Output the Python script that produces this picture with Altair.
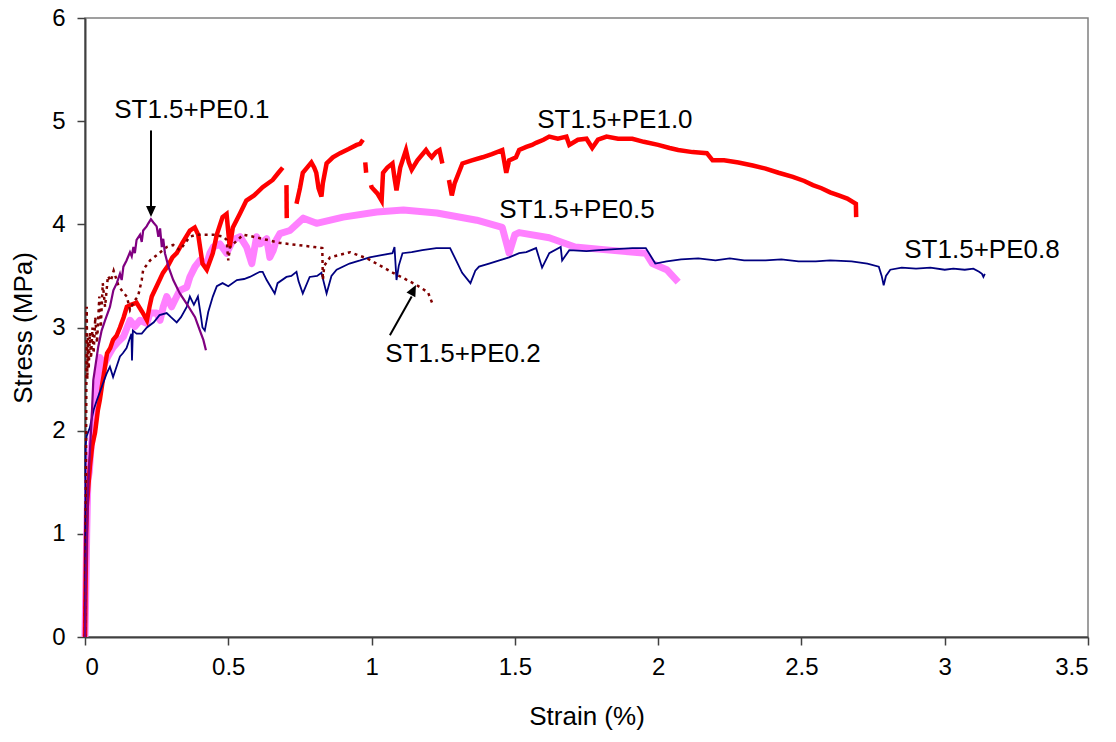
import altair as alt
import pandas as pd

FONT = "Liberation Sans"

# ---------------- data ----------------
# ST1.5+PE0.1 (purple)
pe01_x = [0, 0.003, 0.007, 0.012, 0.018, 0.023, 0.026, 0.029, 0.046, 0.058, 0.070, 0.087, 0.099,
          0.111, 0.122, 0.128, 0.134, 0.145, 0.157, 0.163, 0.169, 0.174, 0.180, 0.192, 0.198,
          0.203, 0.215, 0.221, 0.230, 0.238, 0.250, 0.256, 0.262, 0.268, 0.273, 0.279, 0.291,
          0.308, 0.331, 0.355, 0.384, 0.401, 0.413, 0.422]
pe01_y = [0, 0.5, 1.0, 1.5, 1.85, 2.1, 2.3, 2.49, 2.81, 2.97, 3.07, 3.2, 3.36,
          3.43, 3.52, 3.46, 3.59, 3.65, 3.73, 3.69, 3.78, 3.72, 3.85, 3.9, 3.83,
          3.94, 3.98, 4.01, 4.05, 4.02, 3.98, 3.88, 3.96, 3.78, 3.86, 3.72, 3.59,
          3.46, 3.33, 3.23, 3.1, 2.97, 2.88, 2.78]

# ST1.5+PE0.2 (dark red, dotted)
pe02_x = [0, 0.002, 0.004, 0.005, 0.006, 0.008, 0.010, 0.013, 0.017, 0.021, 0.026, 0.030, 0.036,
          0.042, 0.050, 0.055, 0.062, 0.070, 0.080, 0.090, 0.100, 0.115, 0.130, 0.146, 0.157,
          0.170, 0.185, 0.198, 0.203, 0.227, 0.250, 0.285, 0.308, 0.331, 0.366, 0.390, 0.448,
          0.483, 0.494, 0.500, 0.506, 0.552, 0.587, 0.634, 0.680, 0.740, 0.800, 0.828, 0.830,
          0.835, 0.855, 0.925, 0.984, 1.030, 1.075, 1.110, 1.158, 1.197, 1.214]
pe02_y = [0, 1.0, 2.0, 2.6, 3.2, 2.5, 2.9, 2.6, 2.95, 2.7, 3.0, 2.75, 3.1,
          2.85, 3.3, 3.0, 3.43, 3.2, 3.5, 3.45, 3.55, 3.42, 3.35, 3.3, 3.17,
          3.25, 3.3, 3.46, 3.56, 3.65, 3.7, 3.78, 3.8, 3.75, 3.88, 3.9, 3.9,
          3.88, 3.85, 3.65, 3.78, 3.9, 3.88, 3.85, 3.82, 3.8, 3.78, 3.77, 3.46,
          3.6, 3.68, 3.73, 3.67, 3.6, 3.53, 3.48, 3.41, 3.34, 3.22]

# ST1.5+PE0.5 (pink, thick)
pe05_x = [0, 0.003, 0.006, 0.010, 0.015, 0.020, 0.028, 0.035, 0.045, 0.052, 0.064, 0.080, 0.099,
          0.115, 0.134, 0.157, 0.174, 0.192, 0.215, 0.227, 0.250, 0.262, 0.273, 0.285, 0.302,
          0.320, 0.331, 0.355, 0.366, 0.384, 0.401, 0.425, 0.436, 0.448, 0.471, 0.494, 0.517,
          0.541, 0.564, 0.582, 0.599, 0.611, 0.634, 0.645, 0.657, 0.668, 0.680, 0.715, 0.762,
          0.808, 0.901, 1.018, 1.111, 1.228, 1.367, 1.456, 1.480, 1.500, 1.515, 1.620, 1.710,
          1.830, 1.957, 1.980, 2.030, 2.070]
pe05_y = [0, 0.5, 1.0, 1.52, 1.6, 1.8, 2.03, 2.25, 2.5, 2.71, 2.62, 2.72, 2.81,
          2.86, 2.91, 3.07, 3.01, 3.07, 3.04, 3.14, 3.14, 3.07, 3.2, 3.3, 3.2,
          3.3, 3.36, 3.39, 3.49, 3.59, 3.65, 3.62, 3.72, 3.78, 3.81, 3.72, 3.85,
          3.88, 3.78, 3.62, 3.88, 3.81, 3.86, 3.68, 3.75, 3.85, 3.91, 3.94, 4.06,
          4.01, 4.07, 4.12, 4.14, 4.11, 4.04, 3.97, 3.72, 3.9, 3.92, 3.87, 3.78,
          3.75, 3.72, 3.62, 3.56, 3.44]

# ST1.5+PE0.8 (navy)
pe08_x = [0, 0.001, 0.002, 0.006, 0.017, 0.030, 0.042, 0.063, 0.075, 0.087, 0.098, 0.110, 0.122,
          0.132, 0.145, 0.157, 0.162, 0.164, 0.167, 0.180, 0.198, 0.216, 0.240, 0.260, 0.285,
          0.300, 0.320, 0.335, 0.355, 0.366, 0.380, 0.394, 0.405, 0.410, 0.418, 0.430, 0.446,
          0.460, 0.480, 0.500, 0.530, 0.555, 0.575, 0.610, 0.620, 0.634, 0.662, 0.672, 0.703,
          0.720, 0.738, 0.745, 0.760, 0.784, 0.810, 0.825, 0.843, 0.860, 0.878, 0.923, 0.960,
          0.993, 1.030, 1.073, 1.080, 1.087, 1.095, 1.108, 1.140, 1.177, 1.226, 1.274, 1.295,
          1.316, 1.345, 1.362, 1.375, 1.410, 1.446, 1.480, 1.515, 1.540, 1.574, 1.595, 1.620,
          1.660, 1.665, 1.690, 1.750, 1.794, 1.850, 1.910, 1.957, 1.990, 2.030, 2.080, 2.140,
          2.200, 2.250, 2.300, 2.375, 2.430, 2.490, 2.550, 2.600, 2.675, 2.730, 2.770, 2.780,
          2.787, 2.795, 2.810, 2.850, 2.900, 2.950, 3.000, 3.030, 3.070, 3.100, 3.120, 3.130,
          3.135, 3.140]
pe08_y = [0, 1.0, 1.85, 1.95, 2.03, 2.2, 2.3, 2.46, 2.55, 2.62, 2.52, 2.62, 2.72,
          2.75, 2.8, 2.9, 2.94, 2.68, 2.97, 2.94, 2.94, 3.0, 3.05, 3.12, 3.14,
          3.1, 3.05, 3.1, 3.2, 3.3, 3.22, 3.3, 3.1, 3.0, 2.97, 3.15, 3.3,
          3.4, 3.43, 3.4, 3.46, 3.47, 3.49, 3.54, 3.54, 3.46, 3.33, 3.43, 3.49,
          3.5, 3.54, 3.45, 3.33, 3.49, 3.5, 3.53, 3.33, 3.5, 3.56, 3.62, 3.65,
          3.68, 3.7, 3.72, 3.78, 3.46, 3.6, 3.72, 3.73, 3.75, 3.77, 3.77, 3.65,
          3.53, 3.43, 3.55, 3.59, 3.62, 3.65, 3.68, 3.72, 3.73, 3.77, 3.58, 3.72,
          3.78, 3.65, 3.75, 3.74, 3.75, 3.76, 3.77, 3.77, 3.62, 3.64, 3.66, 3.67,
          3.65, 3.67, 3.65, 3.65, 3.66, 3.64, 3.64, 3.65, 3.64, 3.62, 3.59, 3.5,
          3.41, 3.5, 3.56, 3.58, 3.57, 3.58, 3.56, 3.57, 3.56, 3.57, 3.54, 3.52,
          3.49, 3.52]

# ST1.5+PE1.0 (red, with gaps: seg = piece number)
pe10_x = [0, 0.002, 0.004, 0.006, 0.010, 0.017, 0.025, 0.035, 0.045, 0.052, 0.060, 0.070, 0.077,
          0.088, 0.098, 0.110, 0.122, 0.135, 0.146, 0.160, 0.180, 0.200, 0.216, 0.225, 0.233,
          0.250, 0.272, 0.290, 0.305, 0.320, 0.340, 0.366, 0.383, 0.395, 0.410, 0.425, 0.446,
          0.460, 0.480, 0.494, 0.505, 0.516, 0.540, 0.563, 0.590, 0.620, 0.655, 0.675, 0.690,
          0.703, 0.704,
          0.738, 0.750, 0.760, 0.775, 0.790, 0.800, 0.807, 0.815, 0.825, 0.830, 0.843, 0.865,
          0.890, 0.920, 0.948, 0.960, 0.970,
          0.978, 0.981,
          0.998, 1.000, 1.020, 1.035, 1.040, 1.055, 1.073, 1.080, 1.087, 1.100, 1.120, 1.130,
          1.140, 1.160, 1.190, 1.200, 1.210, 1.225, 1.237, 1.247,
          1.270, 1.280, 1.290, 1.317, 1.350, 1.387, 1.420, 1.456, 1.470, 1.480, 1.504, 1.515,
          1.540, 1.560, 1.574, 1.600, 1.620, 1.650, 1.680, 1.690, 1.720, 1.750, 1.770, 1.790,
          1.820, 1.860, 1.910, 1.950, 2.000, 2.040, 2.070, 2.120, 2.170, 2.190, 2.230, 2.280,
          2.330, 2.375, 2.420, 2.470, 2.510, 2.540, 2.570, 2.600, 2.630, 2.660, 2.690, 2.691]
pe10_y = [0, 0.5, 1.0, 1.26, 1.4, 1.65, 1.85, 1.98, 2.2, 2.3, 2.45, 2.62, 2.75,
          2.8, 2.88, 2.92, 3.0, 3.1, 3.2, 3.22, 3.24, 3.15, 3.07, 3.2, 3.3,
          3.4, 3.53, 3.6, 3.68, 3.72, 3.82, 3.94, 3.97, 3.9, 3.62, 3.56, 3.72,
          3.9, 4.07, 4.1, 3.78, 3.97, 4.1, 4.23, 4.28, 4.36, 4.43, 4.5, 4.55,
          4.38, 4.06,
          4.2, 4.35, 4.5, 4.55, 4.6, 4.55, 4.5, 4.35, 4.27, 4.4, 4.59, 4.65,
          4.69, 4.73, 4.77, 4.78, 4.82,
          4.6, 4.5,
          4.38, 4.36, 4.3, 4.23, 4.5, 4.55, 4.59, 4.45, 4.33, 4.55, 4.72, 4.6,
          4.53, 4.62, 4.72, 4.68, 4.65, 4.7, 4.72, 4.59,
          4.43, 4.28, 4.4, 4.59, 4.62, 4.65, 4.68, 4.72, 4.5, 4.62, 4.65, 4.72,
          4.75, 4.77, 4.79, 4.82, 4.85, 4.83, 4.85, 4.77, 4.82, 4.83, 4.74, 4.82,
          4.85, 4.83, 4.83, 4.8, 4.77, 4.74, 4.72, 4.7, 4.69, 4.62, 4.62, 4.6,
          4.57, 4.54, 4.5, 4.46, 4.42, 4.38, 4.35, 4.31, 4.28, 4.25, 4.2, 4.07]
pe10_seg = [0] * 49 + [1] * 2 + [2] * 17 + [3] * 2 + [4] * 20 + [5] * 48

# annotations
label_text = ["ST1.5+PE0.1", "ST1.5+PE1.0", "ST1.5+PE0.5", "ST1.5+PE0.8", "ST1.5+PE0.2"]
label_x = [0.373, 1.849, 1.717, 3.130, 1.319]
label_y = [5.03, 4.93, 4.06, 3.67, 2.665]

arrow_x = [0.2303, 1.064]
arrow_y = [4.91, 2.926]
arrow_x2 = [0.2303, 1.140]
arrow_y2 = [4.16, 3.30]
head_x = [0.2303, 1.155]
head_y = [4.07, 3.411]
head_angle = [0, 207.5]

x_ticks = [0, 0.5, 1, 1.5, 2, 2.5, 3, 3.5]
y_ticks = [0, 1, 2, 3, 4, 5, 6]


def frame(xs, ys, seg=None):
    return pd.DataFrame({
        "strain": xs,
        "stress": ys,
        "seg": seg if seg is not None else [0] * len(xs),
        "order": list(range(len(xs))),
    })


AXIS_COMMON = dict(
    labelFont=FONT, titleFont=FONT, labelFontSize=24, titleFontSize=26,
    labelColor="black", titleColor="black", titleFontWeight="normal",
    domainColor="#404040", domainWidth=2, tickColor="#404040", tickWidth=1.5,
    tickSize=8, grid=False, format="~g",
)

X = alt.X("strain:Q", title="Strain (%)",
          scale=alt.Scale(domain=[0, 3.5], nice=False, zero=False),
          axis=alt.Axis(values=x_ticks, labelPadding=10, titleBaseline="top",
                        titleY=66, **AXIS_COMMON))
Y = alt.Y("stress:Q", title="Stress (MPa)",
          scale=alt.Scale(domain=[0, 6], nice=False),
          axis=alt.Axis(values=y_ticks, labelPadding=12, titleAngle=270,
                        titleBaseline="bottom", titleX=-49, titleY=309.5,
                        **AXIS_COMMON))


def series(xs, ys, seg=None, **mark):
    return alt.Chart(frame(xs, ys, seg)).mark_line(**mark).encode(
        x=X, y=Y, detail="seg:N", order="order:Q")


pink = series(pe05_x, pe05_y, color="#FF80FF", strokeWidth=7, strokeJoin="round")
red = series(pe10_x, pe10_y, pe10_seg, color="#FF0000", strokeWidth=4.5)
navy = series(pe08_x, pe08_y, color="#000080", strokeWidth=1.8)
dotted = series(pe02_x, pe02_y, color="#800000", strokeWidth=2.5, strokeDash=[3, 4])
purple = series(pe01_x, pe01_y, color="#800080", strokeWidth=2.2)

labels = alt.Chart(pd.DataFrame({"t": label_text, "strain": label_x, "stress": label_y})).mark_text(
    font=FONT, fontSize=26, color="black", align="center", baseline="alphabetic"
).encode(x=alt.X("strain:Q"), y=alt.Y("stress:Q"), text="t:N")

arrows = alt.Chart(pd.DataFrame({"strain": arrow_x, "stress": arrow_y,
                                 "x2": arrow_x2, "y2": arrow_y2})).mark_rule(
    color="black", strokeWidth=2
).encode(x=alt.X("strain:Q"), y=alt.Y("stress:Q"), x2="x2:Q", y2="y2:Q")

heads = alt.Chart(pd.DataFrame({"strain": head_x, "stress": head_y, "a": head_angle})).mark_point(
    shape="M0,0L-0.9,-2L0.9,-2Z", filled=True, size=121, color="black", opacity=1, strokeWidth=0
).encode(x=alt.X("strain:Q"), y=alt.Y("stress:Q"), angle=alt.Angle("a:Q", scale=None))

chart = alt.layer(pink, red, navy, dotted, purple, labels, arrows, heads).properties(
    width=1003, height=619,
    autosize=alt.AutoSizeParams(type="none"),
    padding={"left": 77, "top": 10, "right": 20, "bottom": 100},
    background="white",
).configure_view(stroke="#808080", strokeWidth=1.5)

chart.save("out.html", embed_options={"renderer": "svg", "actions": False})
